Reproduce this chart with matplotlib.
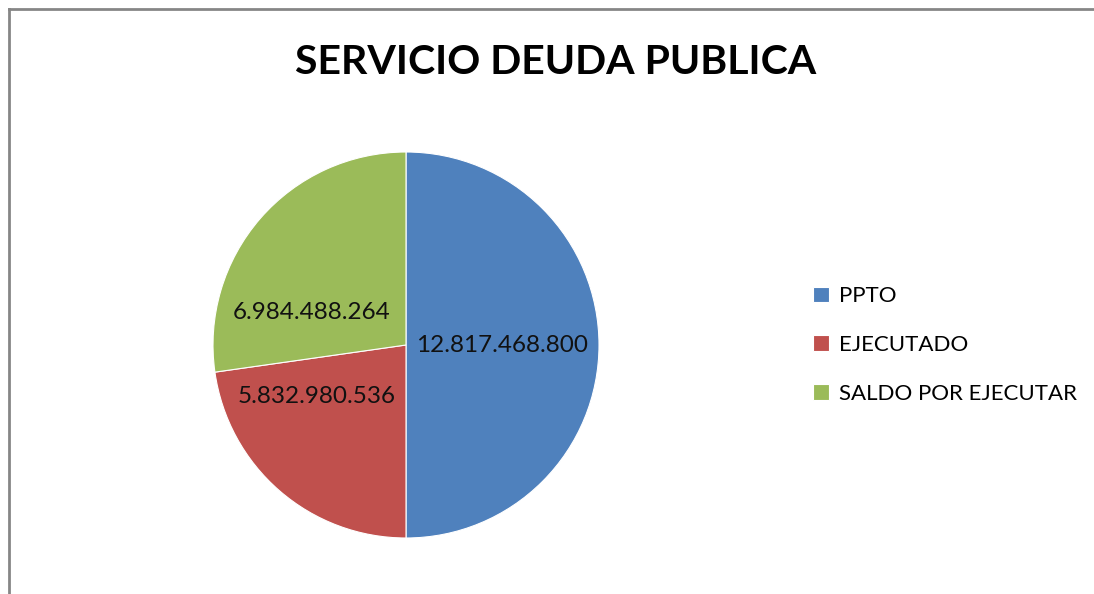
import matplotlib
matplotlib.use("Agg")
import matplotlib.pyplot as plt
from matplotlib.lines import Line2D

plt.rcParams['font.family'] = ['Lato', 'DejaVu Sans']

# data
categories = ["PPTO", "EJECUTADO", "SALDO POR EJECUTAR"]
values = [12817468800, 5832980536, 6984488264]
value_labels = ["12.817.468.800", "5.832.980.536", "6.984.488.264"]
colors = ["#4F81BD", "#C0504D", "#9BBB59"]

W, H = 1094, 594
fig = plt.figure(figsize=(W / 100, H / 100), dpi=100)
fig.patch.set_facecolor("white")

# chart border (left and top visible)
fig.add_artist(Line2D([8.5 / W, 8.5 / W], [0, 1 - 8.5 / H], transform=fig.transFigure,
                      color="#868686", lw=2))
fig.add_artist(Line2D([8.5 / W, 1], [1 - 8.5 / H, 1 - 8.5 / H], transform=fig.transFigure,
                      color="#868686", lw=2))

# pie axes: center (406, 345), radius 193 px
cx, cy, r = 406, 345, 193
ax = fig.add_axes([(cx - r) / W, (H - cy - r) / H, 2 * r / W, 2 * r / H])
wedges, _ = ax.pie(values, colors=colors, startangle=90, counterclock=False,
                   wedgeprops=dict(edgecolor="white", linewidth=0.8))
ax.set_xlim(-1, 1)
ax.set_ylim(-1, 1)
ax.set_aspect("equal")
ax.axis("off")

# data labels (Excel best-fit placement)
label_pos = [(0.50, 0.0), (-0.465, -0.265), (-0.49, 0.17)]
for (x, y), txt in zip(label_pos, value_labels):
    ax.text(x, y, txt, ha="center", va="center", fontsize=17.5, color="#111111")

fig.text(556 / W, 1 - 62 / H, "SERVICIO DEUDA PUBLICA", ha="center", va="center",
         fontsize=29.5, fontweight="bold", color="black")

fig.legend(wedges, categories, loc="center left", bbox_to_anchor=(793 / W, 1 - 345 / H),
           frameon=False, fontsize=16, handlelength=0.7, handleheight=0.7,
           handletextpad=0.45, labelspacing=1.3)

fig.savefig("out.png", dpi=100)
